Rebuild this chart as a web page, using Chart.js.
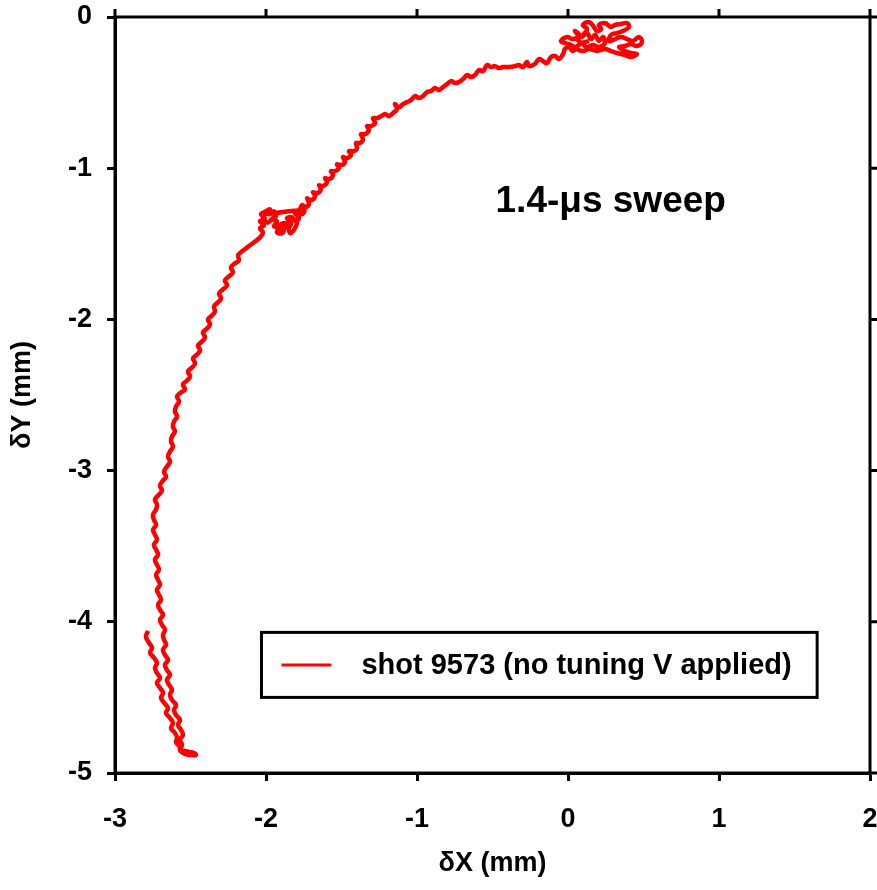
<!DOCTYPE html>
<html>
<head>
<meta charset="utf-8">
<script src="https://cdn.jsdelivr.net/npm/chart.js@4.4.1/dist/chart.umd.min.js"></script>
<style>
  html, body { margin: 0; padding: 0; background: #fff; }
  #wrap { width: 877px; height: 890px; }
</style>
</head>
<body>
<div id="wrap"><canvas id="chart" width="877" height="890"></canvas></div>
<script>
// trace of shot 9573 (mm)
const dX = [
  -2.781, -2.795, -2.775, -2.755, -2.768, -2.742, -2.722, -2.735, -2.722, -2.702,
  -2.722, -2.702, -2.682, -2.695, -2.675, -2.649, -2.662, -2.636, -2.616, -2.629,
  -2.603, -2.589, -2.596, -2.576, -2.563, -2.536, -2.510, -2.477, -2.464, -2.497,
  -2.536, -2.570, -2.556, -2.570, -2.550, -2.563, -2.583, -2.570, -2.596, -2.609,
  -2.596, -2.623, -2.636, -2.623, -2.642, -2.656, -2.636, -2.656, -2.669, -2.649,
  -2.669, -2.682, -2.662, -2.675, -2.682, -2.669, -2.689, -2.702, -2.682, -2.702,
  -2.715, -2.695, -2.709, -2.722, -2.702, -2.715, -2.728, -2.709, -2.722, -2.735,
  -2.715, -2.728, -2.742, -2.722, -2.735, -2.748, -2.728, -2.742, -2.748, -2.728,
  -2.722, -2.735, -2.709, -2.689, -2.702, -2.682, -2.662, -2.675, -2.656, -2.636,
  -2.649, -2.636, -2.616, -2.629, -2.623, -2.603, -2.616, -2.609, -2.589, -2.603,
  -2.596, -2.576, -2.589, -2.563, -2.536, -2.550, -2.523, -2.503, -2.517, -2.490,
  -2.470, -2.483, -2.457, -2.437, -2.450, -2.424, -2.404, -2.417, -2.391, -2.371,
  -2.384, -2.358, -2.338, -2.344, -2.318, -2.298, -2.311, -2.285, -2.258, -2.272,
  -2.245, -2.219, -2.232, -2.205, -2.179, -2.185, -2.159, -2.132, -2.106, -2.079,
  -2.053, -2.033, -2.020,
  -2.040, -2.013, -2.040, -2.007, -2.033, -2.000, -1.974, -1.980, -1.947, -1.934,
  -1.960, -1.927, -1.947, -1.914, -1.927, -1.894, -1.881, -1.901, -1.868, -1.848,
  -1.834, -1.861, -1.828, -1.801, -1.781, -1.808, -1.781, -1.762, -1.748,
  -1.960, -2.020, -1.990, -1.950, -1.900, -1.860, -1.840, -1.800, -1.790,
  -1.762, -1.735, -1.715, -1.728, -1.702,
  -1.675, -1.689, -1.662, -1.636, -1.649, -1.623, -1.596, -1.609, -1.583, -1.556,
  -1.570, -1.543, -1.517, -1.530, -1.503, -1.477, -1.490, -1.464, -1.437, -1.450,
  -1.417, -1.397, -1.404, -1.377, -1.358, -1.371, -1.344, -1.318, -1.331, -1.305,
  -1.278, -1.291, -1.265, -1.238, -1.212, -1.185, -1.159, -1.132, -1.146, -1.119,
  -1.093, -1.066, -1.040, -1.013, -0.987, -0.960, -0.934, -0.907, -0.881, -0.854,
  -0.828, -0.801, -0.775, -0.748, -0.722, -0.695, -0.669, -0.642, -0.616, -0.589,
  -0.563, -0.536, -0.510, -0.483, -0.457, -0.430, -0.391, -0.351, -0.325, -0.298,
  -0.272, -0.258, -0.219, -0.192, -0.166, -0.139, -0.113, -0.086, -0.060, -0.033,
  -0.020, 0.007, 0.033, 0.060, 0.086, 0.060, 0.099, 0.126, 0.099, 0.139,
  0.172, 0.192, 0.219, 0.205, 0.245, 0.285, 0.311, 0.351, 0.391, 0.404,
  0.364, 0.325, 0.285, 0.272, 0.311, 0.351, 0.391, 0.430, 0.470, 0.490,
  0.457, 0.417, 0.377, 0.338, 0.377, 0.417, 0.457, 0.417, 0.377, 0.325,
  0.285, 0.245, 0.192, 0.139, 0.099, 0.060, 0.020, -0.020, -0.046, -0.007,
  0.033, 0.073, 0.046,
  0.086, 0.126, 0.152, 0.179, 0.205, 0.232, 0.245, 0.205, 0.166, 0.126,
  0.099, 0.139
];
const dY = [
  -4.060, -4.099, -4.139, -4.172, -4.205, -4.238, -4.272, -4.305, -4.338, -4.371,
  -4.404, -4.437, -4.470, -4.503, -4.536, -4.570, -4.603, -4.636, -4.669, -4.702,
  -4.735, -4.768, -4.795, -4.821, -4.848, -4.854, -4.861, -4.868, -4.881, -4.881,
  -4.874, -4.848, -4.815, -4.781, -4.748, -4.715, -4.682, -4.649, -4.616, -4.583,
  -4.550, -4.517, -4.483, -4.450, -4.417, -4.384, -4.351, -4.318, -4.285, -4.252,
  -4.219, -4.185, -4.152, -4.119, -4.086, -4.053, -4.020, -3.987, -3.954, -3.921,
  -3.887, -3.854, -3.821, -3.788, -3.755, -3.722, -3.689, -3.656, -3.623, -3.589,
  -3.556, -3.523, -3.490, -3.457, -3.424, -3.391, -3.358, -3.325, -3.291, -3.258,
  -3.225, -3.192, -3.159, -3.132, -3.099, -3.066, -3.040, -3.007, -2.974, -2.940,
  -2.907, -2.874, -2.841, -2.808, -2.775, -2.742, -2.709, -2.675, -2.642, -2.609,
  -2.576, -2.543, -2.510, -2.483, -2.464, -2.430, -2.404, -2.377, -2.344, -2.318,
  -2.291, -2.258, -2.232, -2.205, -2.172, -2.146, -2.119, -2.086, -2.060, -2.033,
  -2.000, -1.974, -1.947, -1.914, -1.887, -1.861, -1.828, -1.801, -1.775, -1.742,
  -1.715, -1.689, -1.656, -1.629, -1.609, -1.576, -1.550, -1.530, -1.510, -1.490,
  -1.470, -1.450, -1.424,
  -1.397, -1.377, -1.351, -1.331, -1.305, -1.285, -1.272, -1.305, -1.285, -1.318,
  -1.338, -1.351, -1.384, -1.397, -1.424, -1.430, -1.397, -1.371, -1.364, -1.391,
  -1.358, -1.331, -1.325, -1.351, -1.325, -1.298, -1.278, -1.305, -1.278,
  -1.300, -1.310, -1.360, -1.330, -1.420, -1.370, -1.430, -1.380, -1.330,
  -1.245, -1.258, -1.232, -1.199, -1.212,
  -1.185, -1.159, -1.166, -1.139, -1.113, -1.119, -1.093, -1.066, -1.073, -1.046,
  -1.020, -1.020, -1.000, -0.974, -0.980, -0.960, -0.927, -0.934, -0.914, -0.887,
  -0.887, -0.868, -0.834, -0.834, -0.808, -0.775, -0.775, -0.748, -0.722, -0.722,
  -0.702, -0.669, -0.669, -0.656, -0.642, -0.656, -0.636, -0.609, -0.576, -0.596,
  -0.576, -0.563, -0.550, -0.523, -0.536, -0.523, -0.497, -0.490, -0.470, -0.483,
  -0.464, -0.444, -0.424, -0.437, -0.430, -0.411, -0.384, -0.397, -0.384, -0.351,
  -0.358, -0.318, -0.331, -0.325, -0.338, -0.331, -0.331, -0.325, -0.318, -0.331,
  -0.298, -0.325, -0.311, -0.278, -0.291, -0.305, -0.265, -0.258, -0.278, -0.245,
  -0.212, -0.199, -0.225, -0.192, -0.172, -0.146, -0.119, -0.079, -0.053, -0.033,
  -0.066, -0.093, -0.079, -0.053, -0.040, -0.066, -0.053, -0.046, -0.040, -0.066,
  -0.093, -0.106, -0.119, -0.159, -0.146, -0.132, -0.146, -0.159, -0.132, -0.166,
  -0.192, -0.179, -0.192, -0.199, -0.225, -0.238, -0.245, -0.265, -0.252, -0.238,
  -0.225, -0.212, -0.225, -0.212, -0.225, -0.212, -0.185, -0.172, -0.159, -0.132,
  -0.146, -0.119, -0.093,
  -0.132, -0.106, -0.146, -0.119, -0.159, -0.132, -0.172, -0.199, -0.185, -0.199,
  -0.172, -0.159
];

const xTicks = [-3, -2, -1, 0, 1, 2];
const yTicks = [-5, -4, -3, -2, -1, 0];

const seriesLabel = 'shot 9573 (no tuning V applied)';
const noteText = '1.4-\u03bcs sweep';

const FONT = '"Liberation Sans", Arial, Helvetica, sans-serif';

// box, mirrored ticks, note and legend
const extras = {
  id: 'extras',
  afterDraw(chart) {
    const { ctx, chartArea: a, scales: { x, y } } = chart;
    ctx.save();
    ctx.strokeStyle = '#000';
    ctx.lineWidth = 3;
    ctx.strokeRect(a.left, a.top, a.right - a.left, a.bottom - a.top);

    ctx.beginPath();
    xTicks.forEach(v => {
      const p = x.getPixelForValue(v);
      ctx.moveTo(p, a.top);
      ctx.lineTo(p, a.top - 8);
    });
    yTicks.forEach(v => {
      const p = y.getPixelForValue(v);
      ctx.moveTo(a.right, p);
      ctx.lineTo(a.right + 8, p);
    });
    ctx.stroke();

    // note
    ctx.fillStyle = '#000';
    ctx.font = 'bold 37px ' + FONT;
    ctx.textAlign = 'left';
    ctx.textBaseline = 'alphabetic';
    ctx.fillText(noteText, x.getPixelForValue(-0.48), y.getPixelForValue(-1.29));

    // legend box
    const l = x.getPixelForValue(-2.03), r = x.getPixelForValue(1.65);
    const t = y.getPixelForValue(-4.07), b = y.getPixelForValue(-4.5);
    ctx.lineWidth = 3;
    ctx.strokeRect(l, t, r - l, b - t);
    const cy = (t + b) / 2;
    ctx.strokeStyle = chart.data.datasets[0].borderColor;
    ctx.beginPath();
    ctx.moveTo(l + 20, cy);
    ctx.lineTo(l + 70, cy);
    ctx.stroke();
    ctx.font = 'bold 29px ' + FONT;
    ctx.textBaseline = 'middle';
    ctx.fillText(chart.data.datasets[0].label, l + 100, cy + 1);
    ctx.restore();
  }
};

const tickFont = { family: FONT, size: 27, weight: 'bold' };
const titleFont = { family: FONT, size: 27, weight: 'bold' };

new Chart(document.getElementById('chart'), {
  type: 'line',
  data: {
    datasets: [{
      label: seriesLabel,
      data: dX.map((v, i) => ({ x: v, y: dY[i] })),
      borderColor: '#ff0000',
      borderWidth: 4.5,
      pointRadius: 0,
      tension: 0.4,
      fill: false
    }]
  },
  options: {
    responsive: false,
    animation: false,
    layout: { padding: { top: 17, right: 7, left: 0, bottom: 0 } },
    plugins: {
      legend: { display: false },
      tooltip: { enabled: false }
    },
    scales: {
      x: {
        type: 'linear',
        min: -3,
        max: 2,
        afterFit: s => {
          s.height = 117;
          s.paddingLeft = 0;
          s.paddingRight = 0;
        },
        afterBuildTicks: s => { s.ticks = xTicks.map(v => ({ value: v })); },
        ticks: { font: tickFont, color: '#000', padding: 22, maxRotation: 0 },
        grid: { drawOnChartArea: false, drawTicks: true, tickLength: 8, tickWidth: 3, tickColor: '#000' },
        border: { color: '#000', width: 3 },
        title: { display: true, text: '\u03b4X (mm)', font: titleFont, color: '#000', padding: { top: 0, bottom: 10 } }
      },
      y: {
        type: 'linear',
        min: -5,
        max: 0,
        afterFit: s => {
          s.width = 115;
          s.paddingTop = 0;
          s.paddingBottom = 0;
        },
        afterBuildTicks: s => { s.ticks = yTicks.map(v => ({ value: v })); },
        ticks: { font: tickFont, color: '#000', padding: 15 },
        grid: { drawOnChartArea: false, drawTicks: true, tickLength: 8, tickWidth: 3, tickColor: '#000' },
        border: { color: '#000', width: 3 },
        title: { display: true, text: '\u03b4Y (mm)', font: titleFont, color: '#000', padding: { top: 6, bottom: 0 } }
      }
    }
  },
  plugins: [extras]
});
</script>
</body>
</html>
